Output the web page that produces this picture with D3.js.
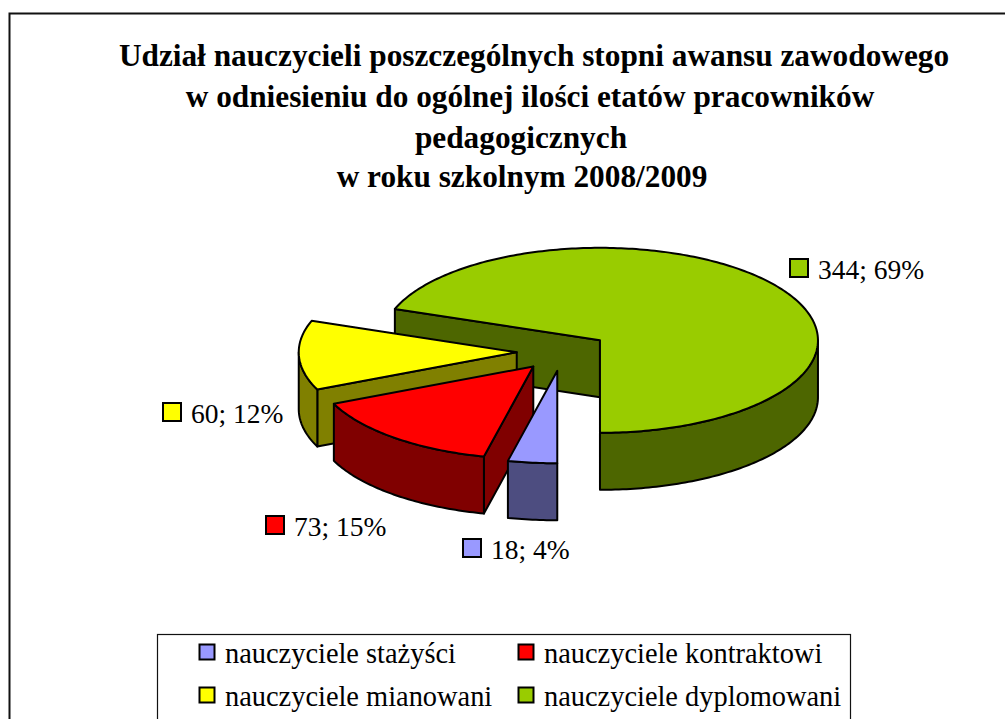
<!DOCTYPE html>
<html><head><meta charset="utf-8">
<script src="https://cdn.jsdelivr.net/npm/d3@7/dist/d3.min.js"></script>
<style>html,body{margin:0;padding:0;background:#fff;overflow:hidden}svg{display:block}text{font-family:"Liberation Serif",serif;fill:#000}</style>
</head><body>
<script>
const categories = ["nauczyciele stażyści","nauczyciele kontraktowi","nauczyciele mianowani","nauczyciele dyplomowani"];
const values = [18,73,60,344];
const topColors = ["#9999FF","#FF0000","#FFFF00","#99CC00"];
const sideColors = ["#4D4D80","#800000","#808000","#4D6600"];
const titleLines = ["Udział nauczycieli poszczególnych stopni awansu zawodowego","w odniesieniu do ogólnej ilości etatów pracowników","pedagogicznych","w roku szkolnym 2008/2009"];

const W=1005,H=719;
const svg=d3.select("body").append("svg").attr("width",W).attr("height",H);
svg.append("path").attr("d",d3.line()([[9.5,H],[9.5,13.5],[W,13.5]])).attr("fill","none").attr("stroke","#111").attr("stroke-width",2);

const titleBase=[66,107,148,187], titleCx=[534,530,521,522];
svg.selectAll(".t").data(titleLines).join("text").attr("class","t")
  .attr("x",(d,i)=>titleCx[i]).attr("y",(d,i)=>titleBase[i]).attr("text-anchor","middle")
  .attr("font-size",31.3).attr("font-weight","bold").text(d=>d);

// pie geometry
const cx=562.5,cy=351.5,rx=218,ry=92.5,depth=57,explode=0.21;
const total=d3.sum(values);
const pie=d3.pie().sort(null).startAngle(Math.PI).endAngle(3*Math.PI);
const arcs=pie(values);
const x=d3.scaleLinear().domain([-1,1]).range([cx-rx,cx+rx]);
const y=d3.scaleLinear().domain([-1,1]).range([cy-ry,cy+ry]);
const line=d3.line();
function sampled(a0,a1){const n=Math.max(2,Math.ceil(Math.abs(a1-a0)/(Math.PI/180)));return d3.range(n+1).map(i=>a0+(a1-a0)*i/n);}

// back-to-front painting: dyplomowani, mianowani, kontraktowi, stażyści
const order=[3,2,1,0];
const sw=2;
order.forEach(i=>{
  const a=arcs[i], mid=(a.startAngle+a.endAngle)/2;
  const ox=explode*Math.sin(mid), oy=-explode*Math.cos(mid);
  const P=(ang,r,dz=0)=>[x(ox+r*Math.sin(ang)),y(oy-r*Math.cos(ang))+dz];
  const g=svg.append("g").attr("fill",sideColors[i]).attr("stroke","#000").attr("stroke-width",sw).attr("stroke-linejoin","round");
  const radial=(ang)=>g.append("path").attr("d",line([P(ang,0),P(ang,1),P(ang,1,depth),P(ang,0,depth)])+"Z");
  [a.startAngle,a.endAngle].forEach((ang,k)=>{
    const ny=k===0?-Math.sin(ang):Math.sin(ang);
    if(ny>0.01) radial(ang);
  });
  [[Math.PI/2,1.5*Math.PI],[2.5*Math.PI,3.5*Math.PI]].forEach(([lo,hi])=>{
    const s=Math.max(a.startAngle,lo), e=Math.min(a.endAngle,hi);
    if(e>s){
      const pts=sampled(s,e);
      g.append("path").attr("d",line(pts.map(t=>P(t,1)).concat(pts.slice().reverse().map(t=>P(t,1,depth))))+"Z");
    }
  });
  const pts=sampled(a.startAngle,a.endAngle);
  svg.append("path").attr("d",line([P(0,0)].concat(pts.map(t=>P(t,1))))+"Z")
    .attr("fill",topColors[i]).attr("stroke","#000").attr("stroke-width",sw).attr("stroke-linejoin","round");
});

// data labels
const labelPos=[[463,539],[266,516],[163,403],[790,259]];
const labelG=svg.selectAll(".lab").data(values).join("g").attr("class","lab").attr("transform",(d,i)=>`translate(${labelPos[i]})`);
labelG.append("rect").attr("width",18).attr("height",18).attr("fill",(d,i)=>topColors[i]).attr("stroke","#000").attr("stroke-width",2);
labelG.append("text").attr("x",28).attr("y",19.5).attr("font-size",27.5).text(d=>`${d}; ${Math.round(d/total*100)}%`);

// legend
svg.append("rect").attr("x",157.5).attr("y",634.5).attr("width",693).attr("height",H).attr("fill","#fff").attr("stroke","#111").attr("stroke-width",1.2);
const legX=[199,518],legY=[644,687];
const leg=svg.selectAll(".leg").data(categories).join("g").attr("class","leg").attr("transform",(d,i)=>`translate(${legX[i%2]},${legY[i>>1]})`);
leg.append("rect").attr("x",.5).attr("y",.5).attr("width",15).attr("height",15).attr("fill",(d,i)=>topColors[i]).attr("stroke","#000").attr("stroke-width",2);
leg.append("text").attr("x",26).attr("y",18.5).attr("font-size",28.4).text(d=>d);
</script>
</body></html>
